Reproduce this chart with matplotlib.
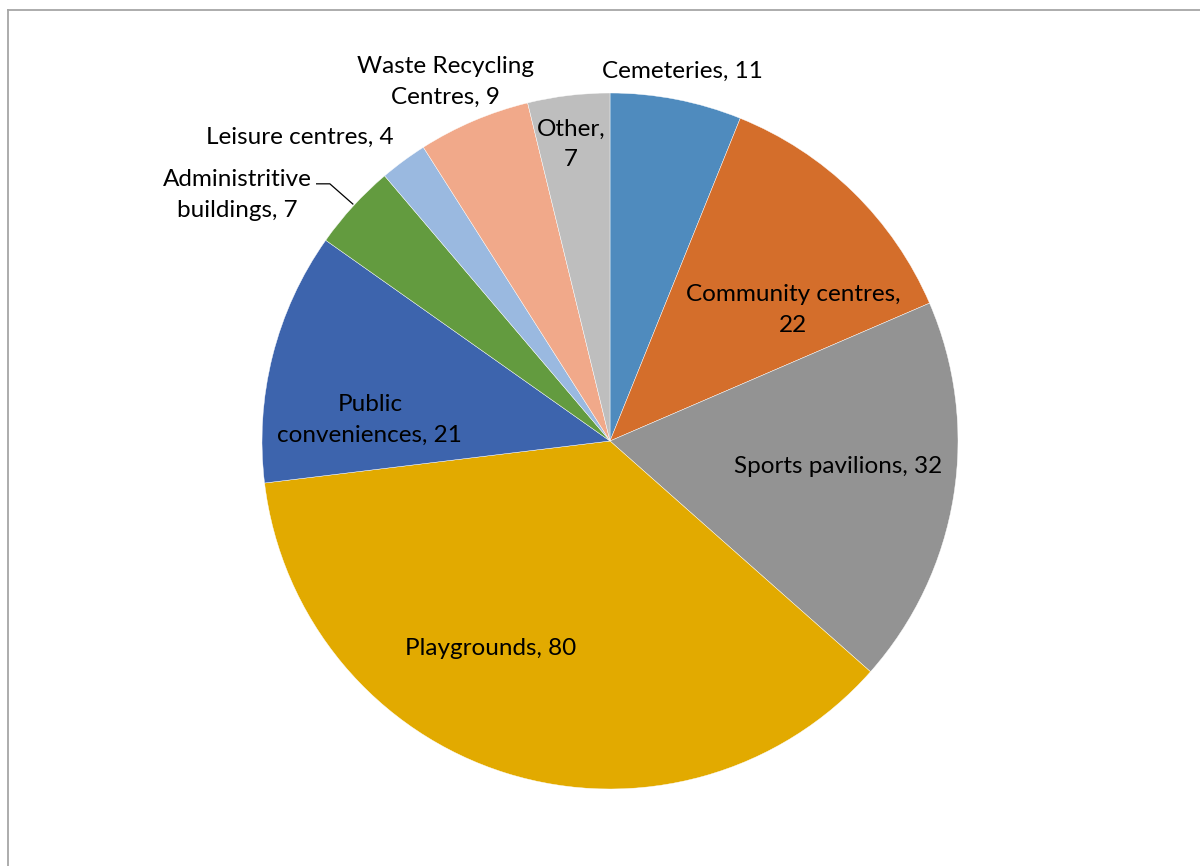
import matplotlib
matplotlib.use("Agg")
import matplotlib.pyplot as plt
from matplotlib.lines import Line2D

# --- data ---
names = ["Cemeteries", "Community centres", "Sports pavilions", "Playgrounds",
         "Public conveniences", "Administritive buildings", "Leisure centres",
         "Waste Recycling Centres", "Other"]
counts = [11, 22, 32, 80, 21, 7, 4, 9, 7]
# slice sizes as drawn in the picture (%)
shares = [6.1, 12.4, 18.0, 36.5, 11.7, 4.0, 2.2, 5.2, 3.8]
label_text = ["Cemeteries, 11", "Community centres,\n22", "Sports pavilions, 32",
              "Playgrounds, 80", "Public\nconveniences, 21", "Administritive\nbuildings, 7",
              "Leisure centres, 4", "Waste Recycling\nCentres, 9", "Other,\n7"]
colors = ["#4F8BBE", "#D46E2B", "#939393", "#E2AA00", "#3D64AD",
          "#639B3F", "#9AB9E0", "#F1A98A", "#BEBEBE"]
# label centres in pie-radius units
label_x = [0.207, 0.526, 0.655, -0.342, -0.690, -1.072, -0.891, -0.474, -0.112]
label_y = [1.063, 0.376, -0.072, -0.595, 0.060, 0.707, 0.874, 1.032, 0.853]

plt.rcParams["font.family"] = ["Lato", "DejaVu Sans"]

fig = plt.figure(figsize=(12, 8.66), dpi=100)
ax = fig.add_axes([262 / 1200, 77 / 866, 696 / 1200, 696 / 866])

ax.pie(shares, colors=colors, startangle=90, counterclock=False, radius=1,
       wedgeprops=dict(edgecolor="white", linewidth=0.3))
ax.set_xlim(-1, 1)
ax.set_ylim(-1, 1)
ax.axis("off")

for txt, x, y in zip(label_text, label_x, label_y):
    ax.text(x, y, txt, ha="center", va="center", fontsize=17.5, color="black",
            linespacing=1.55, clip_on=False)

# leader line for the administrative label
ax.plot([-0.843, -0.805, -0.739], [0.739, 0.739, 0.681], color="black", lw=0.9,
        clip_on=False)

# frame round the chart area (cropped at right and bottom)
fig.add_artist(Line2D([8 / 1200, 1], [1 - 10 / 866, 1 - 10 / 866], color="#A6A6A6", lw=1.3))
fig.add_artist(Line2D([8 / 1200, 8 / 1200], [0, 1 - 10 / 866], color="#A6A6A6", lw=1.3))

fig.savefig("out.png", dpi=100)
